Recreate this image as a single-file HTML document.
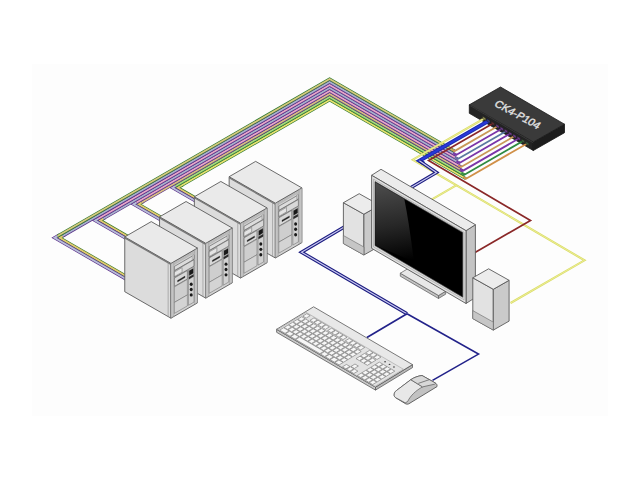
<!DOCTYPE html><html><head><meta charset="utf-8"><style>html,body{margin:0;padding:0;background:#fff;}svg{display:block}</style></head><body><svg width="640" height="480" viewBox="0 0 640 480"><rect x="32" y="64" width="576" height="352" fill="#fdfdfd"/>
<polygon points="469.30,104.80 533.30,142.00 533.30,150.50 469.30,113.30" fill="#232323" stroke="#151515" stroke-width="0.8" stroke-linejoin="round" />
<polygon points="533.30,142.00 564.50,124.20 564.50,132.70 533.30,150.50" fill="#1c1c1c" stroke="#151515" stroke-width="0.8" stroke-linejoin="round" />
<polygon points="469.30,104.80 500.50,87.00 564.50,124.20 533.30,142.00" fill="#3a3a3a" stroke="#1a1a1a" stroke-width="0.8" stroke-linejoin="round" />
<polyline points="470.10,105.60 533.30,142.80" fill="none" stroke="#4a4a4a" stroke-width="0.6" stroke-linejoin="miter" />
<text x="0" y="0" font-family="Liberation Sans, sans-serif" font-size="10.8" fill="#e0e0e0" stroke="#e0e0e0" stroke-width="0.4" transform="matrix(0.88,0.475,-0.62,0.78,493.6,105.6)">CK4-P104</text>
<polyline points="267.70,239.66 177.70,187.70 182.70,184.82" fill="none" stroke="#3a7a2a" stroke-width="3.1" stroke-linejoin="miter" />
<polyline points="267.70,239.66 177.70,187.70 182.70,184.82" fill="none" stroke="#e0c870" stroke-width="1.9" stroke-linejoin="miter" />
<polyline points="262.50,239.66 172.50,187.70 177.50,184.81" fill="none" stroke="#5a2a8a" stroke-width="3.1" stroke-linejoin="miter" />
<polyline points="262.50,239.66 172.50,187.70 177.50,184.81" fill="none" stroke="#b8c0d8" stroke-width="1.9" stroke-linejoin="miter" />
<polyline points="228.70,256.18 138.70,204.22 143.70,201.33" fill="none" stroke="#3a7a2a" stroke-width="3.1" stroke-linejoin="miter" />
<polyline points="228.70,256.18 138.70,204.22 143.70,201.33" fill="none" stroke="#e0c870" stroke-width="1.9" stroke-linejoin="miter" />
<polyline points="223.50,256.18 133.50,204.22 138.50,201.33" fill="none" stroke="#5a2a8a" stroke-width="3.1" stroke-linejoin="miter" />
<polyline points="223.50,256.18 133.50,204.22 138.50,201.33" fill="none" stroke="#b8c0d8" stroke-width="1.9" stroke-linejoin="miter" />
<polyline points="190.20,272.41 100.20,220.45 105.20,217.56" fill="none" stroke="#3a7a2a" stroke-width="3.1" stroke-linejoin="miter" />
<polyline points="190.20,272.41 100.20,220.45 105.20,217.56" fill="none" stroke="#e0c870" stroke-width="1.9" stroke-linejoin="miter" />
<polyline points="185.00,272.41 95.00,220.45 100.00,217.56" fill="none" stroke="#5a2a8a" stroke-width="3.1" stroke-linejoin="miter" />
<polyline points="185.00,272.41 95.00,220.45 100.00,217.56" fill="none" stroke="#b8c0d8" stroke-width="1.9" stroke-linejoin="miter" />
<polyline points="149.70,289.79 59.70,237.83 64.70,234.94" fill="none" stroke="#3a7a2a" stroke-width="3.1" stroke-linejoin="miter" />
<polyline points="149.70,289.79 59.70,237.83 64.70,234.94" fill="none" stroke="#e0c870" stroke-width="1.9" stroke-linejoin="miter" />
<polyline points="144.50,289.79 54.50,237.83 59.50,234.94" fill="none" stroke="#5a2a8a" stroke-width="3.1" stroke-linejoin="miter" />
<polyline points="144.50,289.79 54.50,237.83 59.50,234.94" fill="none" stroke="#b8c0d8" stroke-width="1.9" stroke-linejoin="miter" />
<polyline points="180.70,185.97 329.60,100.00 466.05,178.78" fill="none" stroke="#2e7a30" stroke-width="3.1" stroke-linejoin="miter" />
<polyline points="180.70,185.97 329.60,100.00 466.05,178.78" fill="none" stroke="#e8e070" stroke-width="1.7" stroke-linejoin="miter" />
<polyline points="175.50,185.97 329.60,97.00 464.40,174.83" fill="none" stroke="#2e7a30" stroke-width="3.1" stroke-linejoin="miter" />
<polyline points="175.50,185.97 329.60,97.00 464.40,174.83" fill="none" stroke="#a8d880" stroke-width="1.7" stroke-linejoin="miter" />
<polyline points="141.70,202.49 329.60,94.00 462.75,170.87" fill="none" stroke="#5a3088" stroke-width="3.1" stroke-linejoin="miter" />
<polyline points="141.70,202.49 329.60,94.00 462.75,170.87" fill="none" stroke="#d8c080" stroke-width="1.7" stroke-linejoin="miter" />
<polyline points="136.50,202.49 329.60,91.00 461.10,166.92" fill="none" stroke="#5a3088" stroke-width="3.1" stroke-linejoin="miter" />
<polyline points="136.50,202.49 329.60,91.00 461.10,166.92" fill="none" stroke="#e8a8c8" stroke-width="1.7" stroke-linejoin="miter" />
<polyline points="103.20,218.71 329.60,88.00 459.45,162.97" fill="none" stroke="#5a3088" stroke-width="3.1" stroke-linejoin="miter" />
<polyline points="103.20,218.71 329.60,88.00 459.45,162.97" fill="none" stroke="#a8b4cc" stroke-width="1.7" stroke-linejoin="miter" />
<polyline points="98.00,218.71 329.60,85.00 457.80,159.02" fill="none" stroke="#5a3088" stroke-width="3.1" stroke-linejoin="miter" />
<polyline points="98.00,218.71 329.60,85.00 457.80,159.02" fill="none" stroke="#e8a8c8" stroke-width="1.7" stroke-linejoin="miter" />
<polyline points="62.70,236.10 329.60,82.00 456.15,155.06" fill="none" stroke="#5a3088" stroke-width="3.1" stroke-linejoin="miter" />
<polyline points="62.70,236.10 329.60,82.00 456.15,155.06" fill="none" stroke="#a8b4cc" stroke-width="1.7" stroke-linejoin="miter" />
<polyline points="57.50,236.10 329.60,79.00 454.50,151.11" fill="none" stroke="#2e7a30" stroke-width="3.1" stroke-linejoin="miter" />
<polyline points="57.50,236.10 329.60,79.00 454.50,151.11" fill="none" stroke="#d8c880" stroke-width="1.7" stroke-linejoin="miter" />
<polyline points="463.05,177.05 466.05,178.78 527.22,143.46" fill="none" stroke="#d09048" stroke-width="1.8" stroke-linejoin="miter" />
<polyline points="461.40,173.09 464.40,174.83 522.98,141.00" fill="none" stroke="#2e8a40" stroke-width="1.8" stroke-linejoin="miter" />
<polyline points="459.75,169.14 462.75,170.87 518.75,138.54" fill="none" stroke="#7a34a8" stroke-width="1.8" stroke-linejoin="miter" />
<polyline points="458.10,165.19 461.10,166.92 514.52,136.08" fill="none" stroke="#c89858" stroke-width="1.8" stroke-linejoin="miter" />
<polyline points="456.45,161.24 459.45,162.97 510.28,133.62" fill="none" stroke="#7a34a8" stroke-width="1.8" stroke-linejoin="miter" />
<polyline points="454.80,157.28 457.80,159.02 506.05,131.16" fill="none" stroke="#5a78a0" stroke-width="1.8" stroke-linejoin="miter" />
<polyline points="453.15,153.33 456.15,155.06 501.81,128.70" fill="none" stroke="#7a34a8" stroke-width="1.8" stroke-linejoin="miter" />
<polyline points="451.50,149.38 454.50,151.11 497.58,126.24" fill="none" stroke="#c89858" stroke-width="1.8" stroke-linejoin="miter" />
<polygon points="229.15,176.69 275.35,203.19 275.35,257.99 229.15,231.49" fill="#dcdcdc" stroke="#5a5a5a" stroke-width="0.9" stroke-linejoin="round" />
<polygon points="275.35,203.19 301.85,187.89 301.85,242.69 275.35,257.99" fill="#d2d2d2" stroke="#5a5a5a" stroke-width="0.9" stroke-linejoin="round" />
<polygon points="229.15,176.69 255.65,161.39 301.85,187.89 275.35,203.19" fill="#eaeaea" stroke="#5a5a5a" stroke-width="0.9" stroke-linejoin="round" />
<polyline points="229.15,177.69 275.35,204.19" fill="none" stroke="#777" stroke-width="1.3" stroke-linejoin="miter" />
<polyline points="272.55,201.59 272.55,256.39" fill="none" stroke="#8a8a8a" stroke-width="0.6" stroke-linejoin="miter" />
<polygon points="275.35,203.69 278.26,202.01 278.26,255.81 275.35,257.49" fill="#c4c4c4" stroke="#8a8a8a" stroke-width="0.4" stroke-linejoin="round" />
<polygon points="298.93,190.07 301.85,188.39 301.85,242.19 298.93,243.87" fill="#c4c4c4" stroke="#8a8a8a" stroke-width="0.4" stroke-linejoin="round" />
<polygon points="278.26,202.51 298.93,190.57 298.93,192.57 278.26,204.51" fill="#bdbdbd" stroke="#9a9a9a" stroke-width="0.3" stroke-linejoin="round" />
<polygon points="278.79,206.20 298.40,194.88 298.40,199.08 278.79,210.40" fill="#dcdcdc" stroke="#555" stroke-width="0.6" stroke-linejoin="round" />
<polygon points="278.79,210.80 298.40,199.48 298.40,205.88 278.79,217.20" fill="#d8d8d8" stroke="#555" stroke-width="0.6" stroke-linejoin="round" />
<polygon points="278.79,211.80 286.48,207.36 286.48,211.96 278.79,216.40" fill="#e4e4e4" stroke="#666" stroke-width="0.5" stroke-linejoin="round" />
<polygon points="278.79,217.80 291.78,210.30 291.78,218.70 278.79,226.20" fill="#d8d8d8" stroke="#555" stroke-width="0.6" stroke-linejoin="round" />
<polygon points="281.97,220.17 289.39,215.88 289.39,217.38 281.97,221.67" fill="#222" stroke="#222" stroke-width="0.3" stroke-linejoin="round" />
<polygon points="278.79,226.70 291.78,219.20 291.78,234.70 278.79,242.20" fill="#cecece" stroke="#666" stroke-width="0.5" stroke-linejoin="round" />
<polygon points="278.79,242.20 291.78,234.70 291.78,245.70 278.79,253.20" fill="#d4d4d4" stroke="#666" stroke-width="0.5" stroke-linejoin="round" />
<polygon points="292.84,209.69 298.40,206.48 298.40,241.88 292.84,245.09" fill="#d2d2d2" stroke="#666" stroke-width="0.5" stroke-linejoin="round" />
<polygon points="293.63,210.63 297.61,208.34 297.61,213.04 293.63,215.33" fill="#181818" stroke="#181818" stroke-width="0.3" stroke-linejoin="round" />
<polygon points="293.37,216.79 297.87,214.19 297.87,216.38 293.37,218.99" fill="#2a2a2a" stroke="#2a2a2a" stroke-width="0.3" stroke-linejoin="round" />
<polygon points="296.55,194.95 298.40,193.88 298.40,198.38 296.55,199.45" fill="#c8c8c8" stroke="#777" stroke-width="0.3" stroke-linejoin="round" />
<ellipse cx="295.62" cy="223.99" rx="1.5" ry="1.7" fill="#1a1a1a"/>
<ellipse cx="295.62" cy="229.29" rx="1.5" ry="1.7" fill="#1a1a1a"/>
<ellipse cx="295.62" cy="234.69" rx="1.5" ry="1.7" fill="#1a1a1a"/>
<polygon points="194.35,196.76 240.55,223.26 240.55,278.06 194.35,251.56" fill="#dcdcdc" stroke="#5a5a5a" stroke-width="0.9" stroke-linejoin="round" />
<polygon points="240.55,223.26 267.05,207.96 267.05,262.76 240.55,278.06" fill="#d2d2d2" stroke="#5a5a5a" stroke-width="0.9" stroke-linejoin="round" />
<polygon points="194.35,196.76 220.85,181.46 267.05,207.96 240.55,223.26" fill="#eaeaea" stroke="#5a5a5a" stroke-width="0.9" stroke-linejoin="round" />
<polyline points="194.35,197.76 240.55,224.26" fill="none" stroke="#777" stroke-width="1.3" stroke-linejoin="miter" />
<polyline points="237.75,221.66 237.75,276.46" fill="none" stroke="#8a8a8a" stroke-width="0.6" stroke-linejoin="miter" />
<polygon points="240.55,223.76 243.47,222.08 243.47,275.88 240.55,277.56" fill="#c4c4c4" stroke="#8a8a8a" stroke-width="0.4" stroke-linejoin="round" />
<polygon points="264.13,210.14 267.05,208.46 267.05,262.26 264.13,263.94" fill="#c4c4c4" stroke="#8a8a8a" stroke-width="0.4" stroke-linejoin="round" />
<polygon points="243.47,222.58 264.13,210.64 264.13,212.64 243.47,224.58" fill="#bdbdbd" stroke="#9a9a9a" stroke-width="0.3" stroke-linejoin="round" />
<polygon points="244.00,226.27 263.61,214.95 263.61,219.15 244.00,230.47" fill="#dcdcdc" stroke="#555" stroke-width="0.6" stroke-linejoin="round" />
<polygon points="244.00,230.87 263.61,219.55 263.61,225.95 244.00,237.27" fill="#d8d8d8" stroke="#555" stroke-width="0.6" stroke-linejoin="round" />
<polygon points="244.00,231.87 251.68,227.43 251.68,232.03 244.00,236.47" fill="#e4e4e4" stroke="#666" stroke-width="0.5" stroke-linejoin="round" />
<polygon points="244.00,237.87 256.98,230.37 256.98,238.77 244.00,246.27" fill="#d8d8d8" stroke="#555" stroke-width="0.6" stroke-linejoin="round" />
<polygon points="247.18,240.24 254.59,235.95 254.59,237.45 247.18,241.74" fill="#222" stroke="#222" stroke-width="0.3" stroke-linejoin="round" />
<polygon points="244.00,246.77 256.98,239.27 256.98,254.77 244.00,262.27" fill="#cecece" stroke="#666" stroke-width="0.5" stroke-linejoin="round" />
<polygon points="244.00,262.27 256.98,254.77 256.98,265.77 244.00,273.27" fill="#d4d4d4" stroke="#666" stroke-width="0.5" stroke-linejoin="round" />
<polygon points="258.04,229.76 263.61,226.55 263.61,261.95 258.04,265.16" fill="#d2d2d2" stroke="#666" stroke-width="0.5" stroke-linejoin="round" />
<polygon points="258.84,230.70 262.81,228.41 262.81,233.11 258.84,235.40" fill="#181818" stroke="#181818" stroke-width="0.3" stroke-linejoin="round" />
<polygon points="258.57,236.86 263.07,234.25 263.07,236.45 258.57,239.06" fill="#2a2a2a" stroke="#2a2a2a" stroke-width="0.3" stroke-linejoin="round" />
<polygon points="261.75,215.02 263.61,213.95 263.61,218.45 261.75,219.52" fill="#c8c8c8" stroke="#777" stroke-width="0.3" stroke-linejoin="round" />
<ellipse cx="260.82" cy="244.06" rx="1.5" ry="1.7" fill="#1a1a1a"/>
<ellipse cx="260.82" cy="249.36" rx="1.5" ry="1.7" fill="#1a1a1a"/>
<ellipse cx="260.82" cy="254.76" rx="1.5" ry="1.7" fill="#1a1a1a"/>
<polygon points="159.55,216.83 205.75,243.33 205.75,298.13 159.55,271.63" fill="#dcdcdc" stroke="#5a5a5a" stroke-width="0.9" stroke-linejoin="round" />
<polygon points="205.75,243.33 232.25,228.03 232.25,282.83 205.75,298.13" fill="#d2d2d2" stroke="#5a5a5a" stroke-width="0.9" stroke-linejoin="round" />
<polygon points="159.55,216.83 186.05,201.53 232.25,228.03 205.75,243.33" fill="#eaeaea" stroke="#5a5a5a" stroke-width="0.9" stroke-linejoin="round" />
<polyline points="159.55,217.83 205.75,244.33" fill="none" stroke="#777" stroke-width="1.3" stroke-linejoin="miter" />
<polyline points="202.95,241.73 202.95,296.53" fill="none" stroke="#8a8a8a" stroke-width="0.6" stroke-linejoin="miter" />
<polygon points="205.75,243.83 208.66,242.15 208.66,295.95 205.75,297.63" fill="#c4c4c4" stroke="#8a8a8a" stroke-width="0.4" stroke-linejoin="round" />
<polygon points="229.34,230.21 232.25,228.53 232.25,282.33 229.34,284.01" fill="#c4c4c4" stroke="#8a8a8a" stroke-width="0.4" stroke-linejoin="round" />
<polygon points="208.66,242.65 229.34,230.71 229.34,232.71 208.66,244.65" fill="#bdbdbd" stroke="#9a9a9a" stroke-width="0.3" stroke-linejoin="round" />
<polygon points="209.19,246.34 228.81,235.02 228.81,239.22 209.19,250.54" fill="#dcdcdc" stroke="#555" stroke-width="0.6" stroke-linejoin="round" />
<polygon points="209.19,250.94 228.81,239.62 228.81,246.02 209.19,257.34" fill="#d8d8d8" stroke="#555" stroke-width="0.6" stroke-linejoin="round" />
<polygon points="209.19,251.94 216.88,247.50 216.88,252.10 209.19,256.54" fill="#e4e4e4" stroke="#666" stroke-width="0.5" stroke-linejoin="round" />
<polygon points="209.19,257.94 222.18,250.44 222.18,258.84 209.19,266.34" fill="#d8d8d8" stroke="#555" stroke-width="0.6" stroke-linejoin="round" />
<polygon points="212.38,260.31 219.79,256.02 219.79,257.52 212.38,261.81" fill="#222" stroke="#222" stroke-width="0.3" stroke-linejoin="round" />
<polygon points="209.19,266.84 222.18,259.34 222.18,274.84 209.19,282.34" fill="#cecece" stroke="#666" stroke-width="0.5" stroke-linejoin="round" />
<polygon points="209.19,282.34 222.18,274.84 222.18,285.84 209.19,293.34" fill="#d4d4d4" stroke="#666" stroke-width="0.5" stroke-linejoin="round" />
<polygon points="223.24,249.83 228.81,246.62 228.81,282.02 223.24,285.23" fill="#d2d2d2" stroke="#666" stroke-width="0.5" stroke-linejoin="round" />
<polygon points="224.03,250.77 228.01,248.48 228.01,253.18 224.03,255.47" fill="#181818" stroke="#181818" stroke-width="0.3" stroke-linejoin="round" />
<polygon points="223.77,256.93 228.28,254.32 228.28,256.52 223.77,259.13" fill="#2a2a2a" stroke="#2a2a2a" stroke-width="0.3" stroke-linejoin="round" />
<polygon points="226.95,235.09 228.81,234.02 228.81,238.52 226.95,239.59" fill="#c8c8c8" stroke="#777" stroke-width="0.3" stroke-linejoin="round" />
<ellipse cx="226.02" cy="264.13" rx="1.5" ry="1.7" fill="#1a1a1a"/>
<ellipse cx="226.02" cy="269.43" rx="1.5" ry="1.7" fill="#1a1a1a"/>
<ellipse cx="226.02" cy="274.83" rx="1.5" ry="1.7" fill="#1a1a1a"/>
<polygon points="124.75,236.90 170.95,263.40 170.95,318.20 124.75,291.70" fill="#dcdcdc" stroke="#5a5a5a" stroke-width="0.9" stroke-linejoin="round" />
<polygon points="170.95,263.40 197.45,248.10 197.45,302.90 170.95,318.20" fill="#d2d2d2" stroke="#5a5a5a" stroke-width="0.9" stroke-linejoin="round" />
<polygon points="124.75,236.90 151.25,221.60 197.45,248.10 170.95,263.40" fill="#eaeaea" stroke="#5a5a5a" stroke-width="0.9" stroke-linejoin="round" />
<polyline points="124.75,237.90 170.95,264.40" fill="none" stroke="#777" stroke-width="1.3" stroke-linejoin="miter" />
<polyline points="168.15,261.80 168.15,316.60" fill="none" stroke="#8a8a8a" stroke-width="0.6" stroke-linejoin="miter" />
<polygon points="170.95,263.90 173.86,262.22 173.86,316.02 170.95,317.70" fill="#c4c4c4" stroke="#8a8a8a" stroke-width="0.4" stroke-linejoin="round" />
<polygon points="194.53,250.28 197.45,248.60 197.45,302.40 194.53,304.08" fill="#c4c4c4" stroke="#8a8a8a" stroke-width="0.4" stroke-linejoin="round" />
<polygon points="173.86,262.72 194.53,250.78 194.53,252.78 173.86,264.72" fill="#bdbdbd" stroke="#9a9a9a" stroke-width="0.3" stroke-linejoin="round" />
<polygon points="174.39,266.41 194.00,255.09 194.00,259.29 174.39,270.61" fill="#dcdcdc" stroke="#555" stroke-width="0.6" stroke-linejoin="round" />
<polygon points="174.39,271.01 194.00,259.69 194.00,266.09 174.39,277.41" fill="#d8d8d8" stroke="#555" stroke-width="0.6" stroke-linejoin="round" />
<polygon points="174.39,272.01 182.08,267.57 182.08,272.17 174.39,276.61" fill="#e4e4e4" stroke="#666" stroke-width="0.5" stroke-linejoin="round" />
<polygon points="174.39,278.01 187.38,270.51 187.38,278.91 174.39,286.41" fill="#d8d8d8" stroke="#555" stroke-width="0.6" stroke-linejoin="round" />
<polygon points="177.57,280.38 184.99,276.09 184.99,277.59 177.57,281.88" fill="#222" stroke="#222" stroke-width="0.3" stroke-linejoin="round" />
<polygon points="174.39,286.91 187.38,279.41 187.38,294.91 174.39,302.41" fill="#cecece" stroke="#666" stroke-width="0.5" stroke-linejoin="round" />
<polygon points="174.39,302.41 187.38,294.91 187.38,305.91 174.39,313.41" fill="#d4d4d4" stroke="#666" stroke-width="0.5" stroke-linejoin="round" />
<polygon points="188.44,269.90 194.00,266.69 194.00,302.09 188.44,305.30" fill="#d2d2d2" stroke="#666" stroke-width="0.5" stroke-linejoin="round" />
<polygon points="189.23,270.84 193.21,268.55 193.21,273.25 189.23,275.54" fill="#181818" stroke="#181818" stroke-width="0.3" stroke-linejoin="round" />
<polygon points="188.97,277.00 193.47,274.39 193.47,276.59 188.97,279.20" fill="#2a2a2a" stroke="#2a2a2a" stroke-width="0.3" stroke-linejoin="round" />
<polygon points="192.15,255.16 194.00,254.09 194.00,258.59 192.15,259.66" fill="#c8c8c8" stroke="#777" stroke-width="0.3" stroke-linejoin="round" />
<ellipse cx="191.22" cy="284.20" rx="1.5" ry="1.7" fill="#1a1a1a"/>
<ellipse cx="191.22" cy="289.50" rx="1.5" ry="1.7" fill="#1a1a1a"/>
<ellipse cx="191.22" cy="294.90" rx="1.5" ry="1.7" fill="#1a1a1a"/>
<polyline points="484.21,118.47 412.80,159.70 584.50,260.30 510.60,303.00" fill="none" stroke="#dadc66" stroke-width="2.1" stroke-linejoin="miter" />
<polyline points="484.21,118.47 412.80,159.70 584.50,260.30 510.60,303.00" fill="none" stroke="#ecee98" stroke-width="0.9" stroke-linejoin="miter" />
<polyline points="457.00,184.90 400.00,217.80" fill="none" stroke="#dadc66" stroke-width="2.1" stroke-linejoin="miter" />
<polyline points="457.00,184.90 400.00,217.80" fill="none" stroke="#ecee98" stroke-width="0.9" stroke-linejoin="miter" />
<polyline points="492.86,123.50 428.60,160.60 530.50,220.50 466.00,257.70" fill="none" stroke="#8a2828" stroke-width="1.7" stroke-linejoin="miter" />
<polyline points="488.45,120.93 419.40,160.80 424.00,163.60" fill="none" stroke="#1a2aa8" stroke-width="4.0" stroke-linejoin="miter" />
<polyline points="488.45,120.93 419.40,160.80 424.00,163.60" fill="none" stroke="#2838d8" stroke-width="2.2" stroke-linejoin="miter" />
<polyline points="419.40,160.80 436.50,172.50 301.50,252.20 407.00,313.80" fill="none" stroke="#1c1c80" stroke-width="3.4" stroke-linejoin="miter" />
<polyline points="419.40,160.80 436.50,172.50 301.50,252.20 407.00,313.80" fill="none" stroke="#c8c8f0" stroke-width="1.2" stroke-linejoin="miter" />
<polyline points="407.00,313.80 478.50,354.10 432.50,380.40" fill="none" stroke="#22228a" stroke-width="1.6" stroke-linejoin="miter" />
<polyline points="407.00,313.80 366.90,337.50" fill="none" stroke="#22228a" stroke-width="1.6" stroke-linejoin="miter" />
<polygon points="482.61,116.27 485.81,118.17 485.81,120.67 482.61,118.77" fill="#8a8a50" stroke="#202020" stroke-width="0.5" stroke-linejoin="round" />
<polygon points="486.85,118.73 490.05,120.63 490.05,123.13 486.85,121.23" fill="#303a90" stroke="#202020" stroke-width="0.5" stroke-linejoin="round" />
<polygon points="491.26,121.30 494.46,123.20 494.46,125.70 491.26,123.80" fill="#603030" stroke="#202020" stroke-width="0.5" stroke-linejoin="round" />
<polygon points="495.98,124.04 499.18,125.94 499.18,128.44 495.98,126.54" fill="#6a3a8a" stroke="#202020" stroke-width="0.5" stroke-linejoin="round" />
<polygon points="500.21,126.50 503.41,128.40 503.41,130.90 500.21,129.00" fill="#6a3a8a" stroke="#202020" stroke-width="0.5" stroke-linejoin="round" />
<polygon points="504.45,128.96 507.65,130.86 507.65,133.36 504.45,131.46" fill="#6a3a8a" stroke="#202020" stroke-width="0.5" stroke-linejoin="round" />
<polygon points="508.68,131.42 511.88,133.32 511.88,135.82 508.68,133.92" fill="#6a3a8a" stroke="#202020" stroke-width="0.5" stroke-linejoin="round" />
<polygon points="512.92,133.88 516.12,135.78 516.12,138.28 512.92,136.38" fill="#6a3a8a" stroke="#202020" stroke-width="0.5" stroke-linejoin="round" />
<polygon points="517.15,136.34 520.35,138.24 520.35,140.74 517.15,138.84" fill="#6a3a8a" stroke="#202020" stroke-width="0.5" stroke-linejoin="round" />
<polygon points="521.38,138.80 524.58,140.70 524.58,143.20 521.38,141.30" fill="#3a5a3a" stroke="#202020" stroke-width="0.5" stroke-linejoin="round" />
<polygon points="525.62,141.26 528.82,143.16 528.82,145.66 525.62,143.76" fill="#3a5a3a" stroke="#202020" stroke-width="0.5" stroke-linejoin="round" />
<polygon points="343.40,202.70 363.90,214.20 363.90,255.00 343.40,243.50" fill="#e2e2e2" stroke="#5a5a5a" stroke-width="0.9" stroke-linejoin="round" />
<polygon points="363.90,214.20 379.70,205.20 379.70,246.00 363.90,255.00" fill="#cacaca" stroke="#5a5a5a" stroke-width="0.9" stroke-linejoin="round" />
<polygon points="343.40,202.70 359.20,193.70 379.70,205.20 363.90,214.20" fill="#ececec" stroke="#5a5a5a" stroke-width="0.9" stroke-linejoin="round" />
<polygon points="343.40,235.50 363.90,247.00 363.90,255.00 343.40,243.50" fill="#c6c6c6" stroke="#6a6a6a" stroke-width="0.6" stroke-linejoin="round" />
<polygon points="400.30,273.20 438.50,295.50 438.50,298.50 400.30,276.20" fill="#c4c4c4" stroke="#5a5a5a" stroke-width="0.7" stroke-linejoin="round" />
<polygon points="438.50,295.50 445.70,291.20 445.70,294.20 438.50,298.50" fill="#b4b4b4" stroke="#5a5a5a" stroke-width="0.7" stroke-linejoin="round" />
<polygon points="400.30,273.20 407.50,268.90 445.70,291.20 438.50,295.50" fill="#e8e8e8" stroke="#5a5a5a" stroke-width="0.7" stroke-linejoin="round" />
<polygon points="466.00,230.70 475.40,224.70 475.40,297.50 466.00,303.50" fill="#c4c4c4" stroke="#5a5a5a" stroke-width="0.9" stroke-linejoin="round" />
<polygon points="371.60,175.30 381.00,169.30 475.40,224.70 466.00,230.70" fill="#ececec" stroke="#5a5a5a" stroke-width="0.9" stroke-linejoin="round" />
<polygon points="371.60,175.30 466.00,230.70 466.00,303.50 371.60,248.30" fill="#e0e0e0" stroke="#5a5a5a" stroke-width="0.9" stroke-linejoin="round" />
<polygon points="373.50,179.00 464.20,232.30 464.20,299.90 373.50,247.00" fill="#d8d8d8" stroke="#9a9a9a" stroke-width="0.5" stroke-linejoin="round" />
<defs><linearGradient id="scr" gradientUnits="userSpaceOnUse" x1="385" y1="183" x2="398" y2="262"><stop offset="0" stop-color="#4c4c4c"/><stop offset="0.55" stop-color="#262626"/><stop offset="1" stop-color="#000"/></linearGradient></defs>
<polygon points="375.00,181.60 462.80,232.60 462.80,297.20 375.00,245.60" fill="#000" stroke="#444" stroke-width="0.6" stroke-linejoin="round" />
<path d="M375.3,182.2 L404.3,199 Q409,222 414,262 L375.3,245.2 Z" fill="url(#scr)"/>
<polygon points="472.80,277.80 493.30,289.30 493.30,330.10 472.80,318.60" fill="#e2e2e2" stroke="#5a5a5a" stroke-width="0.9" stroke-linejoin="round" />
<polygon points="493.30,289.30 509.10,280.30 509.10,321.10 493.30,330.10" fill="#cacaca" stroke="#5a5a5a" stroke-width="0.9" stroke-linejoin="round" />
<polygon points="472.80,277.80 488.60,268.80 509.10,280.30 493.30,289.30" fill="#ececec" stroke="#5a5a5a" stroke-width="0.9" stroke-linejoin="round" />
<polygon points="472.80,310.60 493.30,322.10 493.30,330.10 472.80,318.60" fill="#c6c6c6" stroke="#6a6a6a" stroke-width="0.6" stroke-linejoin="round" />
<polygon points="276.60,329.30 375.50,387.10 375.50,390.10 276.60,332.30" fill="#c8c8c8" stroke="#5a5a5a" stroke-width="0.8" stroke-linejoin="round" />
<polygon points="375.50,387.10 412.50,364.60 412.50,367.60 375.50,390.10" fill="#b8b8b8" stroke="#5a5a5a" stroke-width="0.8" stroke-linejoin="round" />
<polygon points="276.60,329.30 313.60,306.80 412.50,364.60 375.50,387.10" fill="#e8e8e8" stroke="#5a5a5a" stroke-width="0.8" stroke-linejoin="round" />
<polygon points="277.69,329.58 375.00,386.46 403.38,369.20 306.07,312.32" fill="#e2e2e2" stroke="#8a8a8a" stroke-width="0.45" stroke-linejoin="round" />
<polygon points="279.65,330.16 285.07,333.32 289.06,330.89 283.65,327.73" fill="#f6f6f6" stroke="#6e6e6e" stroke-width="0.6" stroke-linejoin="round" />
<polygon points="285.66,333.67 290.07,336.25 294.07,333.82 289.66,331.24" fill="#f6f6f6" stroke="#6e6e6e" stroke-width="0.6" stroke-linejoin="round" />
<polygon points="290.67,336.59 295.08,339.17 299.08,336.74 294.66,334.16" fill="#f6f6f6" stroke="#6e6e6e" stroke-width="0.6" stroke-linejoin="round" />
<polygon points="295.67,339.52 319.91,353.69 323.91,351.26 299.67,337.09" fill="#f6f6f6" stroke="#6e6e6e" stroke-width="0.6" stroke-linejoin="round" />
<polygon points="320.51,354.03 324.72,356.50 328.72,354.07 324.50,351.60" fill="#f6f6f6" stroke="#6e6e6e" stroke-width="0.6" stroke-linejoin="round" />
<polygon points="325.31,356.84 329.53,359.31 333.52,356.88 329.31,354.41" fill="#f6f6f6" stroke="#6e6e6e" stroke-width="0.6" stroke-linejoin="round" />
<polygon points="330.12,359.65 334.33,362.11 338.33,359.68 334.12,357.22" fill="#f6f6f6" stroke="#6e6e6e" stroke-width="0.6" stroke-linejoin="round" />
<polygon points="334.93,362.46 339.14,364.92 343.14,362.49 338.92,360.03" fill="#f6f6f6" stroke="#6e6e6e" stroke-width="0.6" stroke-linejoin="round" />
<polygon points="284.17,327.41 287.58,329.41 291.57,326.98 288.16,324.98" fill="#f6f6f6" stroke="#6e6e6e" stroke-width="0.6" stroke-linejoin="round" />
<polygon points="288.17,329.75 291.58,331.75 295.58,329.32 292.17,327.32" fill="#f6f6f6" stroke="#6e6e6e" stroke-width="0.6" stroke-linejoin="round" />
<polygon points="292.18,332.09 295.59,334.09 299.58,331.66 296.17,329.66" fill="#f6f6f6" stroke="#6e6e6e" stroke-width="0.6" stroke-linejoin="round" />
<polygon points="296.18,334.43 299.59,336.43 303.59,334.00 300.18,332.00" fill="#f6f6f6" stroke="#6e6e6e" stroke-width="0.6" stroke-linejoin="round" />
<polygon points="300.19,336.78 303.60,338.77 307.60,336.34 304.18,334.35" fill="#f6f6f6" stroke="#6e6e6e" stroke-width="0.6" stroke-linejoin="round" />
<polygon points="304.19,339.12 307.61,341.11 311.60,338.68 308.19,336.69" fill="#f6f6f6" stroke="#6e6e6e" stroke-width="0.6" stroke-linejoin="round" />
<polygon points="308.20,341.46 311.61,343.45 315.61,341.02 312.19,339.03" fill="#f6f6f6" stroke="#6e6e6e" stroke-width="0.6" stroke-linejoin="round" />
<polygon points="312.20,343.80 315.62,345.79 319.61,343.36 316.20,341.37" fill="#f6f6f6" stroke="#6e6e6e" stroke-width="0.6" stroke-linejoin="round" />
<polygon points="316.21,346.14 319.62,348.13 323.62,345.70 320.21,343.71" fill="#f6f6f6" stroke="#6e6e6e" stroke-width="0.6" stroke-linejoin="round" />
<polygon points="320.21,348.48 323.63,350.47 327.62,348.04 324.21,346.05" fill="#f6f6f6" stroke="#6e6e6e" stroke-width="0.6" stroke-linejoin="round" />
<polygon points="324.22,350.82 327.63,352.82 331.63,350.39 328.22,348.39" fill="#f6f6f6" stroke="#6e6e6e" stroke-width="0.6" stroke-linejoin="round" />
<polygon points="328.23,353.16 331.64,355.16 335.63,352.73 332.22,350.73" fill="#f6f6f6" stroke="#6e6e6e" stroke-width="0.6" stroke-linejoin="round" />
<polygon points="332.23,355.50 335.64,357.50 339.64,355.07 336.23,353.07" fill="#f6f6f6" stroke="#6e6e6e" stroke-width="0.6" stroke-linejoin="round" />
<polygon points="336.24,357.84 339.65,359.84 343.64,357.41 340.23,355.41" fill="#f6f6f6" stroke="#6e6e6e" stroke-width="0.6" stroke-linejoin="round" />
<polygon points="340.24,360.18 343.65,362.18 347.65,359.75 344.24,357.75" fill="#f6f6f6" stroke="#6e6e6e" stroke-width="0.6" stroke-linejoin="round" />
<polygon points="288.68,324.67 292.09,326.66 296.09,324.23 292.68,322.24" fill="#f6f6f6" stroke="#6e6e6e" stroke-width="0.6" stroke-linejoin="round" />
<polygon points="292.69,327.01 296.10,329.00 300.09,326.57 296.68,324.58" fill="#f6f6f6" stroke="#6e6e6e" stroke-width="0.6" stroke-linejoin="round" />
<polygon points="296.69,329.35 300.10,331.34 304.10,328.91 300.69,326.92" fill="#f6f6f6" stroke="#6e6e6e" stroke-width="0.6" stroke-linejoin="round" />
<polygon points="300.70,331.69 304.11,333.68 308.10,331.25 304.69,329.26" fill="#f6f6f6" stroke="#6e6e6e" stroke-width="0.6" stroke-linejoin="round" />
<polygon points="304.70,334.03 308.11,336.02 312.11,333.59 308.70,331.60" fill="#f6f6f6" stroke="#6e6e6e" stroke-width="0.6" stroke-linejoin="round" />
<polygon points="308.71,336.37 312.12,338.37 316.12,335.94 312.70,333.94" fill="#f6f6f6" stroke="#6e6e6e" stroke-width="0.6" stroke-linejoin="round" />
<polygon points="312.71,338.71 316.12,340.71 320.12,338.28 316.71,336.28" fill="#f6f6f6" stroke="#6e6e6e" stroke-width="0.6" stroke-linejoin="round" />
<polygon points="316.72,341.05 320.13,343.05 324.13,340.62 320.71,338.62" fill="#f6f6f6" stroke="#6e6e6e" stroke-width="0.6" stroke-linejoin="round" />
<polygon points="320.72,343.39 324.14,345.39 328.13,342.96 324.72,340.96" fill="#f6f6f6" stroke="#6e6e6e" stroke-width="0.6" stroke-linejoin="round" />
<polygon points="324.73,345.74 328.14,347.73 332.14,345.30 328.72,343.31" fill="#f6f6f6" stroke="#6e6e6e" stroke-width="0.6" stroke-linejoin="round" />
<polygon points="328.73,348.08 332.15,350.07 336.14,347.64 332.73,345.65" fill="#f6f6f6" stroke="#6e6e6e" stroke-width="0.6" stroke-linejoin="round" />
<polygon points="332.74,350.42 336.15,352.41 340.15,349.98 336.74,347.99" fill="#f6f6f6" stroke="#6e6e6e" stroke-width="0.6" stroke-linejoin="round" />
<polygon points="336.75,352.76 340.16,354.75 344.15,352.32 340.74,350.33" fill="#f6f6f6" stroke="#6e6e6e" stroke-width="0.6" stroke-linejoin="round" />
<polygon points="340.75,355.10 344.16,357.09 348.16,354.66 344.75,352.67" fill="#f6f6f6" stroke="#6e6e6e" stroke-width="0.6" stroke-linejoin="round" />
<polygon points="344.76,357.44 348.17,359.43 352.16,357.00 348.75,355.01" fill="#f6f6f6" stroke="#6e6e6e" stroke-width="0.6" stroke-linejoin="round" />
<polygon points="293.19,321.92 296.61,323.92 300.60,321.49 297.19,319.49" fill="#f6f6f6" stroke="#6e6e6e" stroke-width="0.6" stroke-linejoin="round" />
<polygon points="297.20,324.26 300.61,326.26 304.61,323.83 301.20,321.83" fill="#f6f6f6" stroke="#6e6e6e" stroke-width="0.6" stroke-linejoin="round" />
<polygon points="301.20,326.60 304.62,328.60 308.61,326.17 305.20,324.17" fill="#f6f6f6" stroke="#6e6e6e" stroke-width="0.6" stroke-linejoin="round" />
<polygon points="305.21,328.94 308.62,330.94 312.62,328.51 309.21,326.51" fill="#f6f6f6" stroke="#6e6e6e" stroke-width="0.6" stroke-linejoin="round" />
<polygon points="309.22,331.29 312.63,333.28 316.62,330.85 313.21,328.86" fill="#f6f6f6" stroke="#6e6e6e" stroke-width="0.6" stroke-linejoin="round" />
<polygon points="313.22,333.63 316.63,335.62 320.63,333.19 317.22,331.20" fill="#f6f6f6" stroke="#6e6e6e" stroke-width="0.6" stroke-linejoin="round" />
<polygon points="317.23,335.97 320.64,337.96 324.63,335.53 321.22,333.54" fill="#f6f6f6" stroke="#6e6e6e" stroke-width="0.6" stroke-linejoin="round" />
<polygon points="321.23,338.31 324.64,340.30 328.64,337.87 325.23,335.88" fill="#f6f6f6" stroke="#6e6e6e" stroke-width="0.6" stroke-linejoin="round" />
<polygon points="325.24,340.65 328.65,342.64 332.65,340.21 329.23,338.22" fill="#f6f6f6" stroke="#6e6e6e" stroke-width="0.6" stroke-linejoin="round" />
<polygon points="329.24,342.99 332.65,344.98 336.65,342.55 333.24,340.56" fill="#f6f6f6" stroke="#6e6e6e" stroke-width="0.6" stroke-linejoin="round" />
<polygon points="333.25,345.33 336.66,347.33 340.66,344.90 337.24,342.90" fill="#f6f6f6" stroke="#6e6e6e" stroke-width="0.6" stroke-linejoin="round" />
<polygon points="337.25,347.67 340.67,349.67 344.66,347.24 341.25,345.24" fill="#f6f6f6" stroke="#6e6e6e" stroke-width="0.6" stroke-linejoin="round" />
<polygon points="341.26,350.01 344.67,352.01 348.67,349.58 345.26,347.58" fill="#f6f6f6" stroke="#6e6e6e" stroke-width="0.6" stroke-linejoin="round" />
<polygon points="345.26,352.35 348.68,354.35 352.67,351.92 349.26,349.92" fill="#f6f6f6" stroke="#6e6e6e" stroke-width="0.6" stroke-linejoin="round" />
<polygon points="349.27,354.69 352.68,356.69 356.68,354.26 353.27,352.26" fill="#f6f6f6" stroke="#6e6e6e" stroke-width="0.6" stroke-linejoin="round" />
<polygon points="297.71,319.18 301.12,321.17 305.12,318.74 301.70,316.75" fill="#f6f6f6" stroke="#6e6e6e" stroke-width="0.6" stroke-linejoin="round" />
<polygon points="301.71,321.52 305.13,323.51 309.12,321.08 305.71,319.09" fill="#f6f6f6" stroke="#6e6e6e" stroke-width="0.6" stroke-linejoin="round" />
<polygon points="305.72,323.86 309.13,325.85 313.13,323.42 309.71,321.43" fill="#f6f6f6" stroke="#6e6e6e" stroke-width="0.6" stroke-linejoin="round" />
<polygon points="309.72,326.20 313.14,328.19 317.13,325.76 313.72,323.77" fill="#f6f6f6" stroke="#6e6e6e" stroke-width="0.6" stroke-linejoin="round" />
<polygon points="313.73,328.54 317.14,330.53 321.14,328.10 317.73,326.11" fill="#f6f6f6" stroke="#6e6e6e" stroke-width="0.6" stroke-linejoin="round" />
<polygon points="317.73,330.88 321.15,332.88 325.14,330.45 321.73,328.45" fill="#f6f6f6" stroke="#6e6e6e" stroke-width="0.6" stroke-linejoin="round" />
<polygon points="321.74,333.22 325.15,335.22 329.15,332.79 325.74,330.79" fill="#f6f6f6" stroke="#6e6e6e" stroke-width="0.6" stroke-linejoin="round" />
<polygon points="325.75,335.56 329.16,337.56 333.15,335.13 329.74,333.13" fill="#f6f6f6" stroke="#6e6e6e" stroke-width="0.6" stroke-linejoin="round" />
<polygon points="329.75,337.90 333.16,339.90 337.16,337.47 333.75,335.47" fill="#f6f6f6" stroke="#6e6e6e" stroke-width="0.6" stroke-linejoin="round" />
<polygon points="333.76,340.25 337.17,342.24 341.16,339.81 337.75,337.81" fill="#f6f6f6" stroke="#6e6e6e" stroke-width="0.6" stroke-linejoin="round" />
<polygon points="337.76,342.59 341.17,344.58 345.17,342.15 341.76,340.16" fill="#f6f6f6" stroke="#6e6e6e" stroke-width="0.6" stroke-linejoin="round" />
<polygon points="341.77,344.93 345.18,346.92 349.18,344.49 345.76,342.50" fill="#f6f6f6" stroke="#6e6e6e" stroke-width="0.6" stroke-linejoin="round" />
<polygon points="345.77,347.27 349.19,349.26 353.18,346.83 349.77,344.84" fill="#f6f6f6" stroke="#6e6e6e" stroke-width="0.6" stroke-linejoin="round" />
<polygon points="349.78,349.61 353.19,351.60 357.19,349.17 353.77,347.18" fill="#f6f6f6" stroke="#6e6e6e" stroke-width="0.6" stroke-linejoin="round" />
<polygon points="353.78,351.95 357.20,353.94 361.19,351.51 357.78,349.52" fill="#f6f6f6" stroke="#6e6e6e" stroke-width="0.6" stroke-linejoin="round" />
<polygon points="302.78,316.09 306.19,318.09 310.18,315.66 306.77,313.66" fill="#f6f6f6" stroke="#6e6e6e" stroke-width="0.6" stroke-linejoin="round" />
<polygon points="309.99,320.31 313.40,322.30 317.39,319.87 313.98,317.88" fill="#f6f6f6" stroke="#6e6e6e" stroke-width="0.6" stroke-linejoin="round" />
<polygon points="313.99,322.65 317.40,324.64 321.40,322.21 317.99,320.22" fill="#f6f6f6" stroke="#6e6e6e" stroke-width="0.6" stroke-linejoin="round" />
<polygon points="318.00,324.99 321.41,326.98 325.41,324.55 321.99,322.56" fill="#f6f6f6" stroke="#6e6e6e" stroke-width="0.6" stroke-linejoin="round" />
<polygon points="322.00,327.33 325.41,329.32 329.41,326.89 326.00,324.90" fill="#f6f6f6" stroke="#6e6e6e" stroke-width="0.6" stroke-linejoin="round" />
<polygon points="327.61,330.61 331.02,332.60 335.02,330.17 331.61,328.18" fill="#f6f6f6" stroke="#6e6e6e" stroke-width="0.6" stroke-linejoin="round" />
<polygon points="331.62,332.95 335.03,334.94 339.02,332.51 335.61,330.52" fill="#f6f6f6" stroke="#6e6e6e" stroke-width="0.6" stroke-linejoin="round" />
<polygon points="335.62,335.29 339.03,337.28 343.03,334.85 339.62,332.86" fill="#f6f6f6" stroke="#6e6e6e" stroke-width="0.6" stroke-linejoin="round" />
<polygon points="339.63,337.63 343.04,339.62 347.03,337.19 343.62,335.20" fill="#f6f6f6" stroke="#6e6e6e" stroke-width="0.6" stroke-linejoin="round" />
<polygon points="345.23,340.91 348.65,342.90 352.64,340.47 349.23,338.48" fill="#f6f6f6" stroke="#6e6e6e" stroke-width="0.6" stroke-linejoin="round" />
<polygon points="349.24,343.25 352.65,345.24 356.65,342.81 353.24,340.82" fill="#f6f6f6" stroke="#6e6e6e" stroke-width="0.6" stroke-linejoin="round" />
<polygon points="353.25,345.59 356.66,347.58 360.65,345.15 357.24,343.16" fill="#f6f6f6" stroke="#6e6e6e" stroke-width="0.6" stroke-linejoin="round" />
<polygon points="357.25,347.93 360.66,349.92 364.66,347.49 361.25,345.50" fill="#f6f6f6" stroke="#6e6e6e" stroke-width="0.6" stroke-linejoin="round" />
<polygon points="342.45,366.86 345.87,368.85 349.86,366.42 346.45,364.43" fill="#f6f6f6" stroke="#6e6e6e" stroke-width="0.6" stroke-linejoin="round" />
<polygon points="346.46,369.20 349.87,371.19 353.87,368.76 350.45,366.77" fill="#f6f6f6" stroke="#6e6e6e" stroke-width="0.6" stroke-linejoin="round" />
<polygon points="350.46,371.54 353.88,373.54 357.87,371.11 354.46,369.11" fill="#f6f6f6" stroke="#6e6e6e" stroke-width="0.6" stroke-linejoin="round" />
<polygon points="350.97,366.46 354.38,368.45 358.38,366.02 354.97,364.03" fill="#f6f6f6" stroke="#6e6e6e" stroke-width="0.6" stroke-linejoin="round" />
<polygon points="356.00,358.62 359.41,360.62 363.40,358.19 359.99,356.19" fill="#f6f6f6" stroke="#6e6e6e" stroke-width="0.6" stroke-linejoin="round" />
<polygon points="360.00,360.97 363.41,362.96 367.41,360.53 364.00,358.54" fill="#f6f6f6" stroke="#6e6e6e" stroke-width="0.6" stroke-linejoin="round" />
<polygon points="364.01,363.31 367.42,365.30 371.41,362.87 368.00,360.88" fill="#f6f6f6" stroke="#6e6e6e" stroke-width="0.6" stroke-linejoin="round" />
<polygon points="360.51,355.88 363.92,357.87 367.92,355.44 364.51,353.45" fill="#f6f6f6" stroke="#6e6e6e" stroke-width="0.6" stroke-linejoin="round" />
<polygon points="364.51,358.22 367.93,360.21 371.92,357.78 368.51,355.79" fill="#f6f6f6" stroke="#6e6e6e" stroke-width="0.6" stroke-linejoin="round" />
<polygon points="368.52,360.56 371.93,362.56 375.93,360.13 372.52,358.13" fill="#f6f6f6" stroke="#6e6e6e" stroke-width="0.6" stroke-linejoin="round" />
<polygon points="365.58,352.80 368.99,354.79 372.99,352.36 369.57,350.37" fill="#f6f6f6" stroke="#6e6e6e" stroke-width="0.6" stroke-linejoin="round" />
<polygon points="369.58,355.14 373.00,357.13 376.99,354.70 373.58,352.71" fill="#f6f6f6" stroke="#6e6e6e" stroke-width="0.6" stroke-linejoin="round" />
<polygon points="373.59,357.48 377.00,359.47 381.00,357.04 377.59,355.05" fill="#f6f6f6" stroke="#6e6e6e" stroke-width="0.6" stroke-linejoin="round" />
<polygon points="357.29,375.53 360.70,377.52 364.70,375.09 361.28,373.10" fill="#f6f6f6" stroke="#6e6e6e" stroke-width="0.6" stroke-linejoin="round" />
<polygon points="361.29,377.87 364.71,379.86 368.70,377.43 365.29,375.44" fill="#f6f6f6" stroke="#6e6e6e" stroke-width="0.6" stroke-linejoin="round" />
<polygon points="365.30,380.21 368.71,382.21 372.71,379.78 369.30,377.78" fill="#f6f6f6" stroke="#6e6e6e" stroke-width="0.6" stroke-linejoin="round" />
<polygon points="369.30,382.55 372.72,384.55 376.71,382.12 373.30,380.12" fill="#f6f6f6" stroke="#6e6e6e" stroke-width="0.6" stroke-linejoin="round" />
<polygon points="361.80,372.78 365.21,374.78 369.21,372.35 365.80,370.35" fill="#f6f6f6" stroke="#6e6e6e" stroke-width="0.6" stroke-linejoin="round" />
<polygon points="365.81,375.13 369.22,377.12 373.22,374.69 369.80,372.70" fill="#f6f6f6" stroke="#6e6e6e" stroke-width="0.6" stroke-linejoin="round" />
<polygon points="369.81,377.47 373.23,379.46 377.22,377.03 373.81,375.04" fill="#f6f6f6" stroke="#6e6e6e" stroke-width="0.6" stroke-linejoin="round" />
<polygon points="373.82,379.81 377.23,381.80 381.23,379.37 377.81,377.38" fill="#f6f6f6" stroke="#6e6e6e" stroke-width="0.6" stroke-linejoin="round" />
<polygon points="366.32,370.04 369.73,372.03 373.72,369.60 370.31,367.61" fill="#f6f6f6" stroke="#6e6e6e" stroke-width="0.6" stroke-linejoin="round" />
<polygon points="370.32,372.38 373.73,374.37 377.73,371.94 374.32,369.95" fill="#f6f6f6" stroke="#6e6e6e" stroke-width="0.6" stroke-linejoin="round" />
<polygon points="374.33,374.72 377.74,376.72 381.74,374.29 378.32,372.29" fill="#f6f6f6" stroke="#6e6e6e" stroke-width="0.6" stroke-linejoin="round" />
<polygon points="378.33,377.06 381.74,379.06 385.74,376.63 382.33,374.63" fill="#f6f6f6" stroke="#6e6e6e" stroke-width="0.6" stroke-linejoin="round" />
<polygon points="370.83,367.29 374.24,369.29 378.24,366.86 374.83,364.86" fill="#f6f6f6" stroke="#6e6e6e" stroke-width="0.6" stroke-linejoin="round" />
<polygon points="374.84,369.64 378.25,371.63 382.24,369.20 378.83,367.21" fill="#f6f6f6" stroke="#6e6e6e" stroke-width="0.6" stroke-linejoin="round" />
<polygon points="378.84,371.98 382.25,373.97 386.25,371.54 382.84,369.55" fill="#f6f6f6" stroke="#6e6e6e" stroke-width="0.6" stroke-linejoin="round" />
<polygon points="382.85,374.32 386.26,376.31 390.25,373.88 386.84,371.89" fill="#f6f6f6" stroke="#6e6e6e" stroke-width="0.6" stroke-linejoin="round" />
<polygon points="375.34,364.55 378.76,366.54 382.75,364.11 379.34,362.12" fill="#f6f6f6" stroke="#6e6e6e" stroke-width="0.6" stroke-linejoin="round" />
<polygon points="379.35,366.89 382.76,368.88 386.76,366.45 383.35,364.46" fill="#f6f6f6" stroke="#6e6e6e" stroke-width="0.6" stroke-linejoin="round" />
<polygon points="383.36,369.23 386.77,371.23 390.76,368.80 387.35,366.80" fill="#f6f6f6" stroke="#6e6e6e" stroke-width="0.6" stroke-linejoin="round" />
<polygon points="387.36,371.57 390.77,373.57 394.77,371.14 391.36,369.14" fill="#f6f6f6" stroke="#6e6e6e" stroke-width="0.6" stroke-linejoin="round" />
<ellipse cx="385.08" cy="361.81" rx="0.9" ry="0.7" fill="#444"/>
<ellipse cx="389.53" cy="364.41" rx="0.9" ry="0.7" fill="#444"/>
<ellipse cx="393.98" cy="367.01" rx="0.9" ry="0.7" fill="#444"/>
<path d="M394.2,395.5 C394,393 395,391.5 396.5,390.5 L410.8,379.7 C414,377.5 418,376 422,375.5 L435.4,383 C436.8,384 437.3,385 437,386.6 L408.8,403.8 C407.6,404.4 406,404.2 405,403.4 L395.5,397.6 C394.8,397 394.3,396.3 394.2,395.5 Z" fill="#c2c2c2" stroke="#555" stroke-width="0.9"/>
<path d="M394.2,395.5 C394,393 395,391.5 396.5,390.5 L410.8,379.7 L422.5,386.9 C416,390.5 410.5,395.5 407.6,401.6 L405.2,402.8 L395.5,397.6 C394.8,397 394.3,396.3 394.2,395.5 Z" fill="#e8e8e8" stroke="#555" stroke-width="0.7"/>
<path d="M410.8,379.7 C414,377.5 418,376 422,375.5 L435.4,383 C435.8,383.6 435.2,384 434.6,384.2 L422.5,386.9 Z" fill="#d8d8d8" stroke="#555" stroke-width="0.7"/>
<path d="M418.3,383.4 L429.2,379.7" fill="none" stroke="#555" stroke-width="0.7"/></svg></body></html>
